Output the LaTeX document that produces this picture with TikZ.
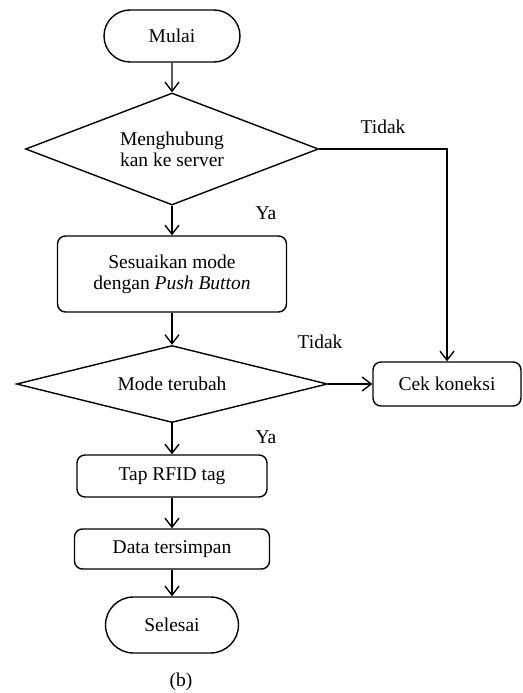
\documentclass[tikz,border=0pt]{standalone}
\usepackage{fontspec}
\setmainfont{Liberation Serif}
\usetikzlibrary{shapes.geometric, shapes.misc, arrows.meta}

\tikzset{
  terminal/.style = {draw, rounded rectangle, line width=1.4pt, inner sep=0},
  proses/.style = {draw, rounded corners=8pt, line width=1.4pt, inner sep=0, align=center},
  keputusan/.style = {draw, diamond, line width=1.4pt, inner sep=0, align=center},
  alur/.style = {line width=1.4pt, -{Straight Barb[length=9pt, width=14pt]}}
}

\begin{document}
\begin{tikzpicture}[x=1pt, y=-1pt, font=\fontsize{19.5}{21}\selectfont]
		\useasboundingbox (0,0) rectangle (522,693);
		
		\node (mulai) at (172,36) [terminal, minimum width=136, minimum height=52] {Mulai};
		\node (konek) at (172,149) [keputusan, minimum width=293, minimum height=112, aspect=2.6] {Menghubung\\kan ke server};
		\node (sesuai) at (172,274) [proses, minimum width=229, minimum height=76] {Sesuaikan mode\\dengan \textit{Push Button}};
		\node (ubah) at (172,384) [keputusan, minimum width=311, minimum height=77, aspect=4] {Mode terubah};
		\node (cek) at (447,384) [proses, minimum width=148, minimum height=44] {Cek koneksi};
		\node (tap) at (172,476) [proses, minimum width=190, minimum height=42] {Tap RFID tag};
		\node (simpan) at (172,549) [proses, minimum width=195, minimum height=40] {Data tersimpan};
		\node (selesai) at (172,625) [terminal, minimum width=133, minimum height=56] {Selesai};
		
		\node (tidak1) at (383,127) {Tidak};
		\node (ya1) at (266,213) {Ya};
		\node (tidak2) at (320,342) {Tidak};
		\node (ya2) at (266,437) {Ya};
		\node (cap) at (181,682) {(b)};
		
		\draw [alur] (mulai) -- (konek);
		\draw [alur] (konek) -- (sesuai);
		\draw [alur] (sesuai) -- (ubah);
		\draw [alur] (ubah) -- (tap);
		\draw [alur] (tap) -- (simpan);
		\draw [alur] (simpan) -- (selesai);
		\draw [alur] (konek.east) -| (cek.north);
		\draw [alur] (ubah.east) -- (cek.west);
\end{tikzpicture}
\end{document}
